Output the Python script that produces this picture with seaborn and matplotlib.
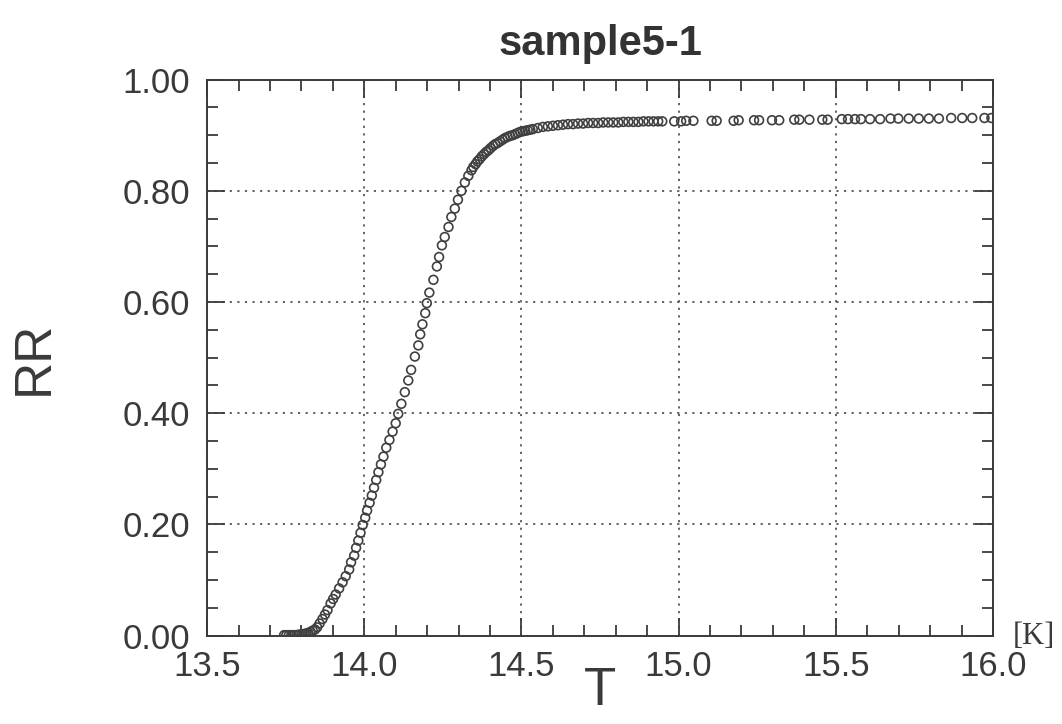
import matplotlib
matplotlib.use("Agg")
import matplotlib.pyplot as plt
from matplotlib.ticker import MultipleLocator
import seaborn as sns
import pandas as pd

# ---- data ----
T_flat = [13.745, 13.752, 13.760, 13.768, 13.776, 13.784, 13.792, 13.800,
          13.808, 13.815, 13.822, 13.829, 13.836, 13.843]
RR_flat = [0.001, 0.001, 0.001, 0.001, 0.001, 0.001, 0.002, 0.002,
           0.003, 0.004, 0.005, 0.007, 0.009, 0.011]

T_rise = [13.850, 13.858, 13.867, 13.875, 13.883, 13.893, 13.901, 13.909, 13.920,
          13.931, 13.941, 13.952, 13.958, 13.968, 13.974, 13.981, 13.988, 13.995,
          14.003, 14.009, 14.017, 14.024, 14.031, 14.038, 14.045, 14.053, 14.061,
          14.070, 14.080, 14.090, 14.100, 14.108, 14.118, 14.129, 14.140, 14.149,
          14.161, 14.172, 14.178, 14.185, 14.194, 14.199, 14.207, 14.220, 14.231,
          14.238, 14.247, 14.256, 14.268, 14.277, 14.288, 14.298, 14.309, 14.320,
          14.331, 14.341, 14.347, 14.354, 14.360, 14.367, 14.374, 14.381, 14.388,
          14.395, 14.402, 14.410, 14.417, 14.424, 14.432, 14.440, 14.448, 14.456,
          14.464, 14.472, 14.480, 14.488, 14.496, 14.504, 14.512, 14.520, 14.528,
          14.536]
RR_rise = [0.015, 0.022, 0.030, 0.038, 0.046, 0.058, 0.066, 0.074, 0.085,
           0.096, 0.107, 0.119, 0.132, 0.144, 0.158, 0.171, 0.185, 0.199,
           0.212, 0.225, 0.239, 0.252, 0.266, 0.280, 0.294, 0.308, 0.322,
           0.338, 0.352, 0.367, 0.382, 0.399, 0.417, 0.438, 0.459, 0.478,
           0.502, 0.522, 0.542, 0.560, 0.580, 0.598, 0.617, 0.640, 0.664,
           0.681, 0.702, 0.717, 0.735, 0.753, 0.768, 0.784, 0.800, 0.815,
           0.827, 0.837, 0.843, 0.848, 0.853, 0.857, 0.862, 0.866, 0.870,
           0.873, 0.877, 0.881, 0.884, 0.886, 0.889, 0.892, 0.895, 0.897,
           0.899, 0.900, 0.902, 0.904, 0.906, 0.907, 0.908, 0.909, 0.910,
           0.911]

T_knee = [14.552, 14.568, 14.584, 14.600, 14.616, 14.632, 14.648, 14.664, 14.680,
          14.696, 14.712, 14.728, 14.744, 14.760, 14.776, 14.792, 14.808, 14.824,
          14.840, 14.856, 14.872, 14.888, 14.904, 14.920, 14.935, 14.948]
RR_knee = [0.913, 0.915, 0.916, 0.917, 0.918, 0.919, 0.920, 0.920, 0.921,
           0.921, 0.922, 0.922, 0.922, 0.923, 0.923, 0.923, 0.923, 0.924,
           0.924, 0.924, 0.924, 0.925, 0.925, 0.925, 0.925, 0.925]

T_plateau = [14.986, 15.008, 15.024, 15.047, 15.105, 15.121, 15.175, 15.191,
             15.240, 15.256, 15.297, 15.320, 15.368, 15.384, 15.416, 15.457,
             15.474, 15.519, 15.539, 15.561, 15.580, 15.609, 15.641, 15.674,
             15.699, 15.732, 15.764, 15.796, 15.828, 15.867, 15.902, 15.934,
             15.973, 15.995]
RR_plateau = [0.925, 0.925, 0.926, 0.926, 0.926, 0.926, 0.926, 0.927,
              0.927, 0.927, 0.927, 0.927, 0.928, 0.928, 0.928, 0.928,
              0.928, 0.929, 0.929, 0.929, 0.929, 0.929, 0.929, 0.930,
              0.930, 0.930, 0.930, 0.930, 0.930, 0.931, 0.931, 0.931,
              0.931, 0.931]

x_ticks = [13.5, 14.0, 14.5, 15.0, 15.5, 16.0]
y_ticks = [0.0, 0.2, 0.4, 0.6, 0.8, 1.0]
x_tick_labels = ["13.5", "14.0", "14.5", "15.0", "15.5", "16.0"]
y_tick_labels = ["0.00", "0.20", "0.40", "0.60", "0.80", "1.00"]

df = pd.DataFrame({
    "T": T_flat + T_rise + T_knee + T_plateau,
    "RR": RR_flat + RR_rise + RR_knee + RR_plateau,
})

# ---- style ----
sns.set_style("ticks")
plt.rcParams["font.family"] = ["Liberation Sans", "DejaVu Sans"]

ink = "#3a3a3a"
fig = plt.figure(figsize=(10.62, 7.24), dpi=100)
ax = fig.add_axes([0.195, 0.122, 0.740, 0.768])

sns.scatterplot(data=df, x="T", y="RR", ax=ax, marker="o", s=40,
                facecolor="none", edgecolor="#404040", linewidth=1.2,
                legend=False, zorder=3)

ax.set_xlim(13.5, 16.0)
ax.set_ylim(0.0, 1.0)
ax.set_xticks(x_ticks)
ax.set_xticklabels(x_tick_labels)
ax.set_yticks(y_ticks)
ax.set_yticklabels(y_tick_labels)
ax.xaxis.set_minor_locator(MultipleLocator(0.1))
ax.yaxis.set_minor_locator(MultipleLocator(0.05))

ax.tick_params(which="both", direction="in", top=True, right=True,
               colors=ink, width=1.3, labelsize=25, labelcolor=ink)
ax.tick_params(which="major", length=13, pad=12)
ax.tick_params(which="minor", length=8)
ax.tick_params(axis="x", which="major", pad=10)

for sp in ax.spines.values():
    sp.set_color(ink)
    sp.set_linewidth(1.4)

ax.grid(True, which="major", linestyle=(0, (1.2, 3)), color="#555555",
        linewidth=1.3)
ax.set_axisbelow(True)

ax.set_title("sample5-1", fontsize=30, fontweight="bold", color="#333333", pad=18)
ax.set_xlabel("T", fontsize=38, color=ink, labelpad=-12)
ax.set_ylabel("RR", fontsize=37, color=ink, labelpad=46)
ax.text(1.025, -0.002, "[K]", transform=ax.transAxes, fontsize=22,
        family=["Liberation Serif", "DejaVu Serif"], color=ink,
        ha="left", va="center")

fig.savefig("out.png", dpi=100, facecolor="white")
